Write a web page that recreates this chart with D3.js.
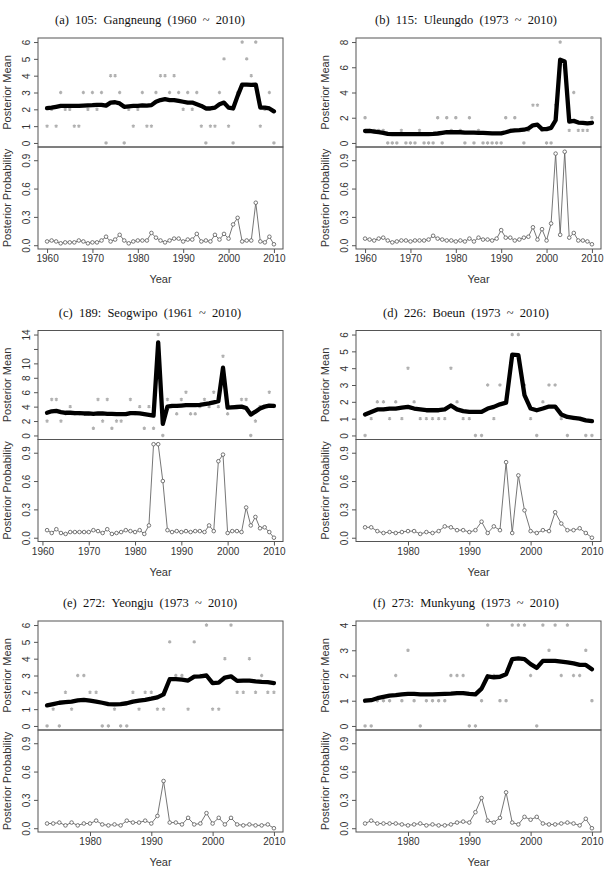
<!DOCTYPE html>
<html>
<head>
<meta charset="utf-8">
<script src="https://cdn.jsdelivr.net/npm/d3@7"></script>
<style>
  body { margin: 0; background: #fff; }
  text { font-family: "Liberation Sans", Arial, sans-serif; }
</style>
</head>
<body>
<svg id="chart"></svg>
<script>
// (a) Gangneung 1960-2010
var countsA = [1,2,1,3,2,2,1,1,3,2, 3,2,3,0,4,4,3,0,2,1, 2,3,1,1,3,4,4,3,4,3, 2,3,2,3,1,0,1,1,3,5, 1,0,3,6,5,4,6,1,2,3,0];
var meanA = [2.07,2.1,2.15,2.2,2.2,2.2,2.2,2.2,2.22,2.24, 2.25,2.27,2.27,2.22,2.4,2.42,2.35,2.15,2.18,2.2,
             2.2,2.23,2.22,2.25,2.45,2.55,2.6,2.55,2.55,2.5, 2.45,2.4,2.4,2.3,2.2,2.05,2.05,2.1,2.3,2.4,
             2.1,2.05,2.8,3.47,3.47,3.45,3.47,2.1,2.1,2.05,1.88];
var probA = [0.04,0.05,0.04,0.02,0.03,0.03,0.03,0.05,0.04,0.02, 0.03,0.03,0.05,0.09,0.04,0.06,0.11,0.05,0.02,0.04,
             0.05,0.05,0.05,0.13,0.08,0.05,0.03,0.05,0.07,0.07, 0.04,0.06,0.06,0.12,0.04,0.05,0.04,0.11,0.06,0.12,
             0.07,0.22,0.29,0.04,0.05,0.05,0.45,0.04,0.03,0.09,0.01];

// (b) Uleungdo 1960-2010
var countsB = [2,1,1,1,1,0,0,0,1,0, 0,0,1,0,0,0,2,0,2,1, 2,1,0,2,0,1,0,0,0,0, 0,2,1,2,1,0,1,3,3,1, 0,0,3,8,6,1,4,1,1,1,2];
var meanB = [0.95,0.95,0.9,0.85,0.8,0.72,0.7,0.7,0.7,0.7, 0.7,0.7,0.7,0.7,0.7,0.72,0.75,0.8,0.85,0.85,
             0.85,0.85,0.82,0.82,0.82,0.8,0.8,0.78,0.76,0.76, 0.76,0.85,0.95,1.0,1.02,1.05,1.15,1.4,1.45,1.1,
             1.1,1.2,1.8,6.6,6.45,1.7,1.75,1.62,1.6,1.55,1.6];
var probB = [0.07,0.06,0.05,0.07,0.08,0.05,0.03,0.04,0.05,0.05, 0.04,0.05,0.05,0.05,0.06,0.1,0.07,0.06,0.05,0.05,
             0.04,0.05,0.04,0.07,0.04,0.08,0.06,0.06,0.05,0.07, 0.16,0.08,0.08,0.05,0.06,0.08,0.09,0.19,0.06,0.17,
             0.05,0.23,0.97,0.11,0.99,0.08,0.13,0.05,0.05,0.04,0.01];

// (c) Seogwipo 1961-2010
var countsC = [2,5,5,2,3,4,3,3,3, 3,1,5,2,5,1,2,2,3,5, 3,4,1,4,1,14,0,5,4,3, 5,6,3,3,4,5,4,6,4,11, 3,4,4,5,5,0,2,4,4,6,4];
var meanC = [3.15,3.35,3.4,3.25,3.15,3.15,3.1,3.1,3.05, 3.05,3.0,3.05,3.05,3.0,3.0,2.95,2.95,2.95,3.1,
             3.1,3.05,2.95,2.85,2.75,12.9,1.6,4.0,4.1,4.1, 4.15,4.2,4.2,4.2,4.25,4.35,4.45,4.6,4.75,9.4,
             3.85,3.9,3.95,4.0,3.8,2.9,3.3,3.75,4.0,4.15,4.1];
var probC = [0.08,0.05,0.09,0.05,0.04,0.06,0.06,0.06,0.06, 0.06,0.08,0.07,0.05,0.09,0.04,0.05,0.06,0.08,0.07,
             0.06,0.08,0.04,0.13,0.99,0.99,0.6,0.08,0.06,0.07, 0.06,0.07,0.06,0.07,0.07,0.06,0.13,0.07,0.81,0.88,
             0.05,0.07,0.07,0.06,0.32,0.13,0.22,0.1,0.11,0.06,0.0];

// (d) Boeun 1973-2010
var countsD = [0,1,2,2,1,2,1, 4,2,1,1,1,1,1,4,2,1, 1,0,0,3,1,3,2,6,6,3, 1,0,2,3,3,1,0,1,1,0,0];
var meanD = [1.25,1.4,1.55,1.55,1.6,1.6,1.65, 1.7,1.6,1.55,1.5,1.5,1.5,1.55,1.78,1.55,1.45,
             1.4,1.4,1.4,1.6,1.7,1.85,1.95,4.8,4.78,2.4, 1.6,1.5,1.6,1.72,1.72,1.25,1.1,1.05,1.0,0.9,0.85];
var probD = [0.11,0.11,0.07,0.05,0.06,0.05,0.06, 0.07,0.07,0.04,0.06,0.05,0.07,0.12,0.11,0.08,0.08,
             0.06,0.08,0.17,0.05,0.12,0.08,0.8,0.05,0.66,0.29, 0.07,0.05,0.08,0.07,0.27,0.15,0.08,0.08,0.1,0.05,0.0];

// (e) Yeongju 1973-2010
var countsE = [0,1,0,2,1,3,3, 2,2,0,0,1,0,0,2,1,2, 2,1,1,5,3,3,1,5,3,6, 1,1,4,6,2,2,4,2,3,2,2];
var meanE = [1.22,1.3,1.38,1.42,1.45,1.52,1.55, 1.5,1.45,1.38,1.3,1.28,1.3,1.35,1.45,1.5,1.55,
             1.62,1.7,1.88,2.78,2.78,2.75,2.7,2.93,2.95,3.0, 2.55,2.58,2.88,2.95,2.68,2.7,2.7,2.65,2.62,2.6,2.55];
var probE = [0.05,0.05,0.06,0.03,0.06,0.03,0.05, 0.05,0.08,0.04,0.03,0.04,0.03,0.08,0.06,0.06,0.08,
             0.05,0.13,0.5,0.06,0.06,0.04,0.11,0.04,0.05,0.16, 0.05,0.11,0.04,0.11,0.04,0.03,0.04,0.03,0.03,0.04,0.0];

// (f) Munkyung 1973-2010
var countsF = [0,0,1,1,1,2,1, 3,1,0,1,1,1,1,2,2,2, 0,0,1,4,2,1,1,4,4,4, 2,0,4,3,4,2,4,2,2,3,1];
var meanF = [1.0,1.02,1.1,1.15,1.2,1.22,1.25, 1.27,1.27,1.25,1.25,1.25,1.26,1.27,1.28,1.3,1.3,
             1.27,1.25,1.48,1.97,1.93,1.95,2.05,2.65,2.68,2.65, 2.45,2.3,2.58,2.58,2.58,2.55,2.52,2.48,2.42,2.42,2.25];
var probF = [0.05,0.08,0.05,0.05,0.05,0.05,0.04, 0.03,0.04,0.05,0.03,0.04,0.03,0.03,0.04,0.06,0.07,
             0.06,0.17,0.32,0.08,0.06,0.11,0.38,0.06,0.04,0.12, 0.09,0.12,0.05,0.04,0.04,0.05,0.06,0.05,0.03,0.1,0.0];

var titles = ["(a)  105:  Gangneung  (1960  ~  2010)", "(b)  115:  Uleungdo  (1973  ~  2010)",
              "(c)  189:  Seogwipo  (1961  ~  2010)", "(d)  226:  Boeun  (1973  ~  2010)",
              "(e)  272:  Yeongju  (1973  ~  2010)", "(f)  273:  Munkyung  (1973  ~  2010)"];
var startYears = [1960, 1960, 1961, 1973, 1973, 1973];
var meanTicks = [[0,1,2,3,4,5,6], [0,2,4,6,8], [0,2,4,6,8,10,12,14], [0,1,2,3,4,5,6], [0,1,2,3,4,5,6], [0,1,2,3,4]];
var probTicks = [0, 0.3, 0.6, 0.9];
var yearTicks = [1960, 1970, 1980, 1990, 2000, 2010];

var panels = [
  {counts:countsA, mean:meanA, prob:probA},
  {counts:countsB, mean:meanB, prob:probB},
  {counts:countsC, mean:meanC, prob:probC},
  {counts:countsD, mean:meanD, prob:probD},
  {counts:countsE, mean:meanE, prob:probE},
  {counts:countsF, mean:meanF, prob:probF}
];

var screen = {width: 609, height: 870};
var svg = d3.select("#chart")
            .attr("width", screen.width)
            .attr("height", screen.height);

var colLeft = [38, 356];
var rowTop = [38, 330.5, 621];
var boxW = 245, topH = 109, botH = 102;

panels.forEach(function(p, i)
{
  var left = colLeft[i % 2];
  var top = rowTop[Math.floor(i / 2)];
  var mid = top + topH;
  var bottom = mid + botH;
  var start = startYears[i];
  var years = d3.range(start, 2011);
  var pad = 0.04 * (2010 - start);

  var xScale = d3.scaleLinear()
                 .domain([start - pad, 2010 + pad])
                 .range([left, left + boxW]);
  var maxY = d3.max(p.counts);
  var yMean = d3.scaleLinear()
                .domain([-0.04 * maxY, maxY * 1.04])
                .range([mid, top]);
  var yProb = d3.scaleLinear()
                .domain([-0.04, 1.04])
                .range([bottom, mid]);

  var g = svg.append("g").attr("class", "panel");

  // title (non-breaking spaces keep the wide gaps)
  g.append("text")
   .attr("x", i % 2 == 0 ? 150 : 466)
   .attr("y", top - 14)
   .attr("text-anchor", "middle")
   .style("font-family", "'Liberation Serif', 'Times New Roman', serif")
   .style("font-size", "12.5px")
   .attr("fill", "#111")
   .text(titles[i].replace(/ /g, "\u00a0"));

  // observed counts
  g.append("g").selectAll("path")
   .data(p.counts)
   .enter().append("path")
   .attr("transform", function(d, j){ return "translate(" + xScale(years[j]) + "," + yMean(d) + ")"; })
   .attr("d", d3.symbol().type(d3.symbolAsterisk || d3.symbolTimes).size(8))
   .attr("fill", "none")
   .attr("stroke", "#b0b0b0")
   .attr("stroke-width", 1.2);

  // posterior mean
  var drawMean = d3.line()
                   .x(function(d, j){ return xScale(years[j]); })
                   .y(function(d){ return yMean(d); });
  g.append("path")
   .datum(p.mean)
   .attr("d", drawMean)
   .attr("fill", "none")
   .attr("stroke", "#000")
   .attr("stroke-width", 4.3)
   .attr("stroke-linejoin", "round")
   .attr("stroke-linecap", "round");

  // posterior probability
  var drawProb = d3.line()
                   .x(function(d, j){ return xScale(years[j]); })
                   .y(function(d){ return yProb(d); });
  g.append("path")
   .datum(p.prob)
   .attr("d", drawProb)
   .attr("fill", "none")
   .attr("stroke", "#666")
   .attr("stroke-width", 0.9);
  g.append("g").selectAll("circle")
   .data(p.prob)
   .enter().append("circle")
   .attr("cx", function(d, j){ return xScale(years[j]); })
   .attr("cy", function(d){ return yProb(d); })
   .attr("r", 1.8)
   .attr("fill", "#fff")
   .attr("stroke", "#666")
   .attr("stroke-width", 0.9);

  // boxes
  g.append("rect").attr("x", left).attr("y", top).attr("width", boxW).attr("height", topH)
   .attr("fill", "none").attr("stroke", "#555");
  g.append("rect").attr("x", left).attr("y", mid).attr("width", boxW).attr("height", botH)
   .attr("fill", "none").attr("stroke", "#555");

  // axes
  var yAxisMean = d3.axisLeft(yMean).tickValues(meanTicks[i]).tickSize(4)
                    .tickFormat(function(d){ return d == 12 ? "" : d; });
  var yAxisProb = d3.axisLeft(yProb).tickValues(probTicks).tickSize(4)
                    .tickFormat(d3.format(".1f"));
  [yAxisMean, yAxisProb].forEach(function(ax)
  {
    var a = g.append("g")
             .attr("transform", "translate(" + left + ",0)")
             .call(ax);
    a.select(".domain").remove();
    a.selectAll("line").attr("stroke", "#555");
    a.selectAll("text")
     .attr("transform", "rotate(-90)")
     .attr("x", 0).attr("y", -8).attr("dy", 0)
     .style("text-anchor", "middle")
     .style("font-size", "10px")
     .attr("fill", "#333");
  });

  var xAxis = d3.axisBottom(xScale)
                .tickValues(yearTicks.filter(function(t){ return t >= start - pad; }))
                .tickSize(4).tickPadding(2)
                .tickFormat(d3.format("d"));
  var xa = g.append("g")
            .attr("transform", "translate(0," + bottom + ")")
            .call(xAxis);
  xa.select(".domain").remove();
  xa.selectAll("line").attr("stroke", "#555");
  xa.selectAll("text").style("font-size", "10px").attr("fill", "#333");

  // axis titles
  g.append("text")
   .attr("transform", "translate(" + (left - 27) + "," + (top + topH / 2) + ") rotate(-90)")
   .attr("text-anchor", "middle")
   .style("font-size", "11px")
   .attr("fill", "#333")
   .text("Posterior Mean");
  g.append("text")
   .attr("transform", "translate(" + (left - 27) + "," + (mid + botH / 2) + ") rotate(-90)")
   .attr("text-anchor", "middle")
   .style("font-size", "11px")
   .attr("fill", "#333")
   .text("Posterior Probability");
  g.append("text")
   .attr("x", left + boxW / 2)
   .attr("y", bottom + 34)
   .attr("text-anchor", "middle")
   .style("font-size", "11px")
   .attr("fill", "#333")
   .text("Year");
});
</script>
</body>
</html>
